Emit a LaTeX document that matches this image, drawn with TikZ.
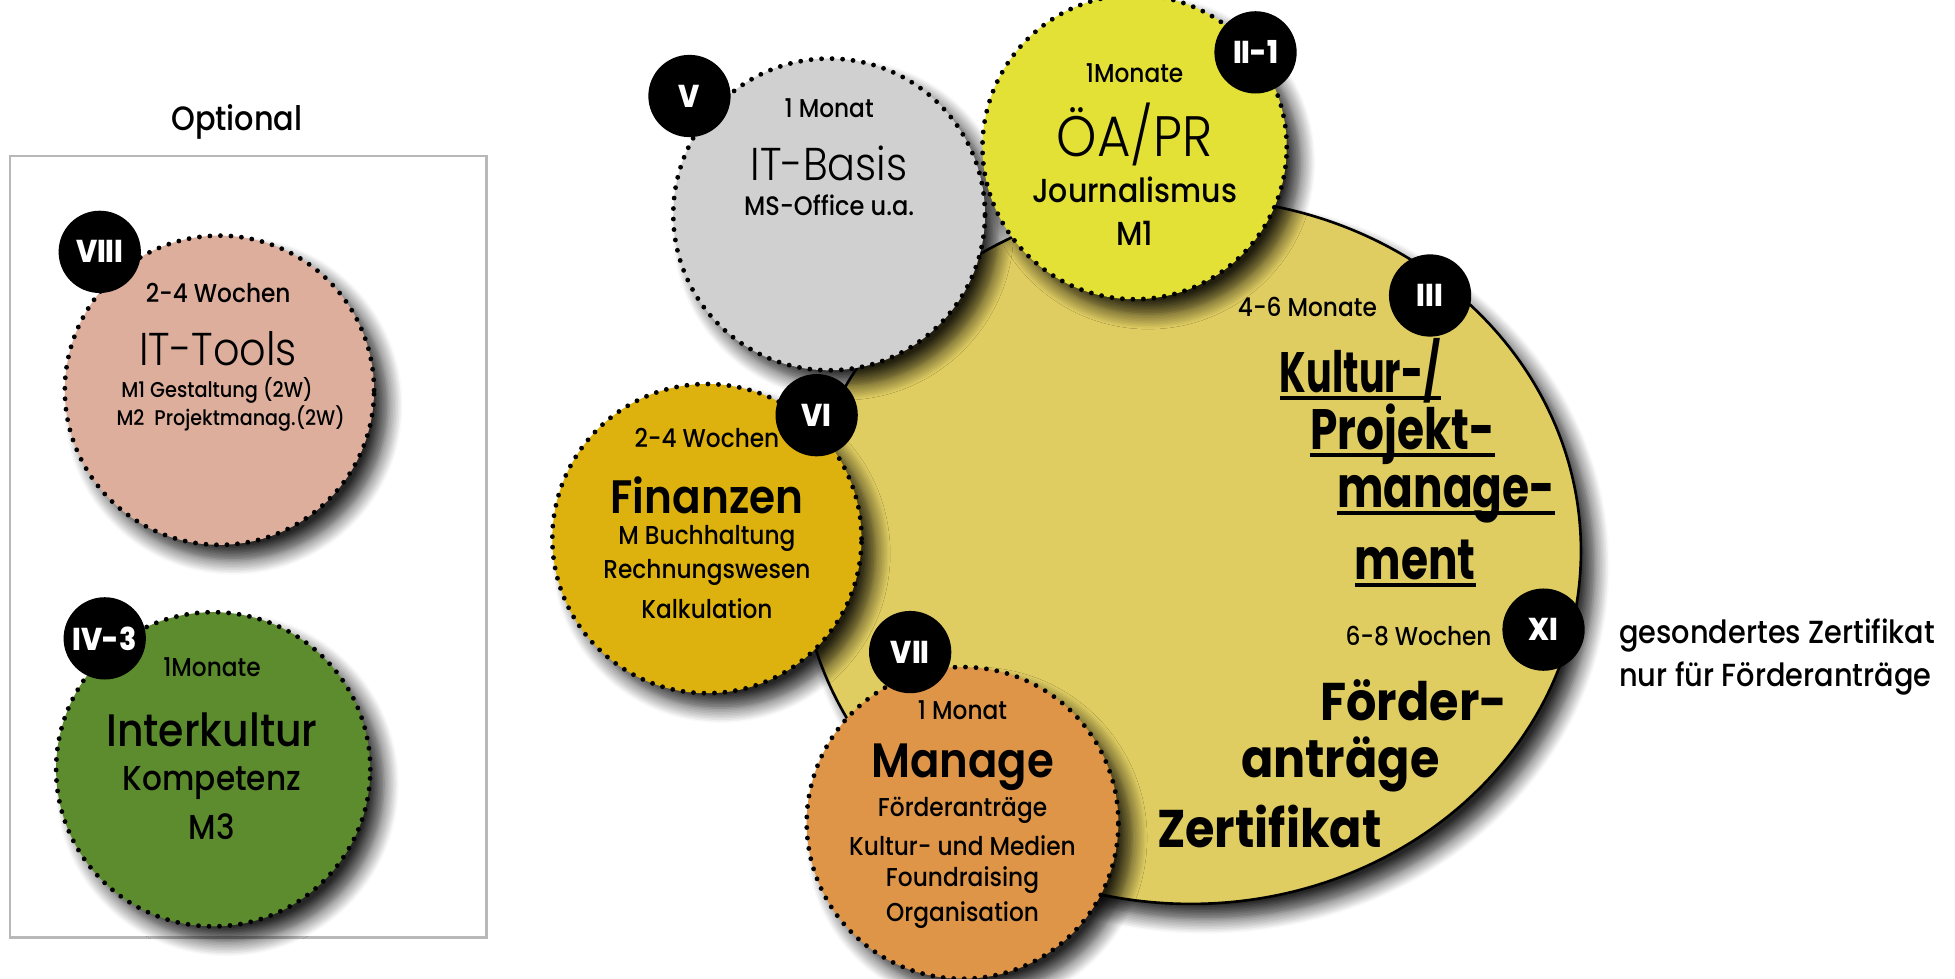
\documentclass[tikz,border=0pt]{standalone}
\usepackage{fontspec}
\setmainfont{Poppins}[FakeStretch=0.9]
\newfontfamily\leicht{Poppins Light}[FakeStretch=0.9]
\newfontfamily\mittel{Poppins Medium}[FakeStretch=0.9]
\newfontfamily\halbfett{Poppins SemiBold}[FakeStretch=0.9]
\newfontfamily\schmal{Poppins Bold}[FakeStretch=0.77]
\newfontfamily\schmaler{Poppins Bold}[FakeStretch=0.67]
\newfontfamily\extrafett{Poppins ExtraBold}[FakeStretch=0.9]
\usetikzlibrary{shapes.geometric, shadows.blur}

\definecolor{rosa}{HTML}{DDAE9C}
\definecolor{gruen}{HTML}{5C8C2E}
\definecolor{grau}{HTML}{D0D0D0}
\definecolor{zitrone}{HTML}{E3E036}
\definecolor{gold}{HTML}{DDB20F}
\definecolor{orange}{HTML}{DE9547}
\definecolor{sand}{HTML}{E0CD62}

% underline a bit below the baseline
\newcommand{\unterstr}[1]{\setbox0\hbox{#1}\leavevmode\rlap{\vrule width\wd0 height -0.9pt depth 1.8pt}\box0}

\tikzset{
    schatten/.style={blur shadow={shadow xshift=1.1mm, shadow yshift=-1.2mm, shadow blur radius=1.2mm, shadow blur steps=10, shadow opacity=85}},
    modul/.style={circle, inner sep=0pt, minimum size=#1, draw=black, line width=1.1pt, line cap=round, dash pattern=on 0pt off 2.4pt, schatten},
    nummer/.style={circle, fill=black, inner sep=0pt, minimum size=6.6mm, text=white, font=\extrafett\fontsize{7.2}{8}\selectfont},
    dauer/.style={font=\mittel\fontsize{5.9}{6}\selectfont},
    klein/.style={font=\mittel\fontsize{5.9}{6}\selectfont},
    kult/.style={font=\schmal\fontsize{13}{14}\selectfont},
    foerd/.style={font=\bfseries\fontsize{12.1}{13}\selectfont},
}

\begin{document}
\begin{tikzpicture}[x=0.1mm, y=-0.1mm]
    \useasboundingbox (0,0) rectangle (1568,785);

    % Optional panel
    \node[font=\mittel\fontsize{7.7}{9}\selectfont] (optional) at (190,98) {Optional};
    \draw[black!28, line width=0.6pt] (8,125) rectangle (390,752);

    \node[modul=24.8mm, fill=rosa] (ittools) at (176,313) {};
    \node[dauer] (ittools-d) at (175,235) {2-4 Wochen};
    \node[font=\leicht\fontsize{10.5}{11}\selectfont] (ittools-t) at (175,280) {IT-Tools};
    \node[font=\mittel\fontsize{4.9}{5}\selectfont] (ittools-m1) at (174,313) {M1 Gestaltung (2W)};
    \node[font=\mittel\fontsize{4.85}{5}\selectfont] (ittools-m2) at (185,336) {M2\ \ Projektmanag.(2W)};
    \node[nummer] (n-viii) at (80,202) {VIII};

    \node[modul=25.2mm, fill=gruen] (inter) at (171,617) {};
    \node[dauer] (inter-d) at (170,535) {1Monate};
    \node[font=\mittel\fontsize{10.4}{11}\selectfont] (inter-t) at (170,585) {Interkultur};
    \node[font=\mittel\fontsize{7.9}{8}\selectfont] (inter-k) at (170,628) {Kompetenz};
    \node[font=\mittel\fontsize{7.9}{8}\selectfont] (inter-m) at (170,663) {M3};
    \node[nummer] (n-iv) at (84,512) {IV-3};

    % main module
    \node[ellipse, draw=black, line width=0.6pt, fill=sand, minimum width=62.6mm, minimum height=56.6mm, schatten] (kultur) at (955,442) {};

    \node[modul=25mm, fill=grau] (itbasis) at (665,172) {};
    \node[dauer] (itbasis-d) at (665,87) {1 Monat};
    \node[font=\leicht\fontsize{10.5}{11}\selectfont] (itbasis-t) at (665,131) {IT-Basis};
    \node[font=\mittel\fontsize{6.1}{7}\selectfont] (itbasis-m) at (665,165) {MS-Office u.a.};
    \node[nummer] (n-v) at (553,77) {V};

    \node[modul=24.4mm, fill=zitrone] (oea) at (910,118) {};
    \node[dauer] (oea-d) at (910,59) {1Monate};
    \node[font=\leicht\fontsize{13}{14}\selectfont] (oea-t) at (910,108) {ÖA/PR};
    \node[font=\mittel\fontsize{7.6}{9}\selectfont] (oea-j) at (910,152) {Journalismus};
    \node[font=\mittel\fontsize{7.6}{9}\selectfont] (oea-m) at (910,187) {M1};
    \node[nummer] (n-ii) at (1007,42) {II-1};

    \node[modul=24.8mm, fill=gold] (finanzen) at (567,432) {};
    \node[dauer] (finanzen-d) at (567,351) {2-4 Wochen};
    \node[font=\halbfett\fontsize{10.7}{11}\selectfont] (finanzen-t) at (567,397) {Finanzen};
    \node[klein] (finanzen-a) at (567,432) {M Buchhaltung};
    \node[klein] (finanzen-b) at (567,459) {Rechnungswesen};
    \node[klein] (finanzen-c) at (567,488) {Kalkulation};
    \node[nummer] (n-vi) at (655,333) {VI};

    \node[modul=25mm, fill=orange] (manage) at (772,660) {};
    \node[dauer] (manage-d) at (772,570) {1 Monat};
    \node[font=\halbfett\fontsize{11}{12}\selectfont] (manage-t) at (772,615) {Manage};
    \node[klein] (manage-a) at (772,650) {Förderanträge};
    \node[klein] (manage-b) at (772,678) {Kultur- und Medien};
    \node[klein] (manage-c) at (772,706) {Foundraising};
    \node[klein] (manage-e) at (772,734) {Organisation};
    \node[nummer] (n-vii) at (730,523) {VII};

    % text in the big ellipse
    \node[dauer, anchor=east, inner sep=0pt] (kultur-d) at (1105,246) {4-6 Monate};
    \node[kult, font=\schmaler\fontsize{13}{14}\selectfont] (kultur-1) at (1091,297) {\unterstr{Kultur-/}};
    \node[kult] (kultur-2) at (1125,348) {\unterstr{Projekt-}};
    \node[kult] (kultur-3) at (1160,400) {\unterstr{manage-}};
    \node[kult] (kultur-4) at (1135,452) {\unterstr{ment}};
    \node[nummer] (n-iii) at (1147,237) {III};

    \node[dauer, anchor=east, inner sep=0pt] (foerder-d) at (1197,510) {6-8 Wochen};
    \node[foerd] (foerder-1) at (1134,562) {Förder-};
    \node[foerd] (foerder-2) at (1075,613) {anträge};
    \node[foerd] (foerder-3) at (1018,663) {Zertifikat};
    \node[nummer] (n-xi) at (1238,505) {XI};

    \node[align=left, anchor=west, inner sep=0pt, font=\mittel\fontsize{7.3}{10}\selectfont] (hinweis) at (1298,527) {gesondertes Zertifikat\\nur für Förderanträge};
\end{tikzpicture}
\end{document}
